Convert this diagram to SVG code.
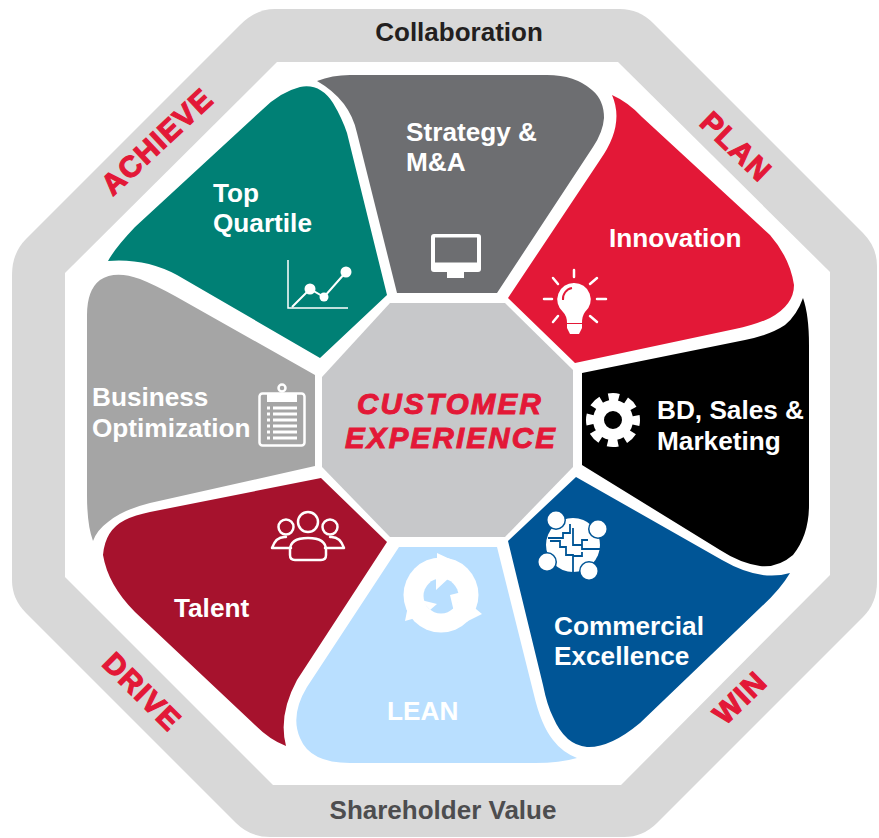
<svg xmlns="http://www.w3.org/2000/svg" width="879" height="838" viewBox="0 0 879 838">
<defs><style>
text{font-family:"Liberation Sans",Arial,sans-serif;font-weight:700;}
.w{fill:#fff;font-size:26.2px;}
.r{fill:#e31837;stroke:#e31837;stroke-width:1.200px;font-size:29.5px;letter-spacing:1.300px;text-anchor:middle;}
.c{fill:#e31837;stroke:#e31837;stroke-width:1px;font-size:29.5px;font-style:italic;letter-spacing:2.2px;text-anchor:middle;}
.d{fill:#231f20;font-size:26px;text-anchor:middle;}
.i{fill:none;stroke:#fff;stroke-width:2.5;stroke-linecap:round;stroke-linejoin:round;}
.f{fill:#fff;stroke:none;}
</style></defs>
<rect width="879" height="838" fill="#fff"/>
<g id="frame">
<path d="M275 9H620Q639 9 653 23L863 233Q877 247 877 266V582Q877 603 863 617L657 823Q643 837 624 837H270Q250 837 236 823L26 613Q12 599 12 580V275Q12 253 26 239L240 25Q256 9 275 9Z" fill="#d8d8d8"/>
<path d="M277 62H618L830 272V575L621 785H273L65 577V273Z" fill="#fff"/>
</g>
<g id="labels-outer">
<text class="d" x="459" y="41">Collaboration</text>
<text class="d" x="443" y="819" style="fill:#4d4d4f">Shareholder Value</text>
<text class="r" transform="translate(164,149) rotate(-43)">ACHIEVE</text>
<text class="r" transform="translate(729,154) rotate(44)">PLAN</text>
<text class="r" transform="translate(747,705) rotate(-44)">WIN</text>
<text class="r" transform="translate(135,699) rotate(45)">DRIVE</text>
</g>
<g id="center">
<path d="M390 303H505L573 370V467L505 537H390L322 467V377Z" fill="#c7c8ca"/>
<text class="c" x="450" y="414">CUSTOMER</text>
<text class="c" x="451" y="448">EXPERIENCE</text>
</g>
<g id="strategy">
<path d="M317 81Q332 75 350 75H547Q575 75 592 90Q604 100 604 118Q603 132 593 147L497 293H397L357 133Q350 100 317 81Z" fill="#6d6e71"/>
<text class="w" x="406" y="141">Strategy &amp;</text><text class="w" x="406" y="171">M&amp;A</text>
<rect x="431" y="234" width="50" height="38" rx="3" class="f"/>
<rect x="435" y="237.500" width="42" height="25" fill="#6d6e71"/>
<rect x="447" y="272" width="17" height="6" class="f"/>
</g>
<g id="innovation">
<path d="M612 95Q628 102 642 117L770 235Q790 258 794 285Q794 305 770 318Q755 325 735 329L575 363L508 298L600 160Q625 125 612 95Z" fill="#e31837"/>
<text class="w" x="609" y="247">Innovation</text>
<path class="i" stroke-width="3" d="M574 270V277M553 278L558 284M544 299H552M597 278L590 284M597 299H606M553 322L558 316M597 322L590 316"/>
<path class="f" d="M574 283A16.500 16.500 0 0 1 585 312Q582 316 582 323H567Q567 316 563 312A16.500 16.500 0 0 1 574 283Z"/>
<rect class="f" x="567" y="324" width="15" height="4"/><path class="f" d="M567 328H582L579 334H570Z"/>
<path d="M563 300A11 11 0 0 1 572 288" fill="none" stroke="#e31837" stroke-width="2"/>
</g>
<g id="bd">
<path d="M803 298Q809 315 809 345V505Q809 535 793 555Q778 568 760 566Q740 563 720 550L582 465V373L745 340Q770 335 785 325Q797 315 803 298Z" fill="#000"/>
<text class="w" x="657" y="419">BD, Sales &amp;</text><text class="w" x="657" y="450">Marketing</text>
<circle cx="613" cy="420" r="14.500" fill="none" stroke="#fff" stroke-width="11"/>
<circle cx="613" cy="420" r="23" fill="none" stroke="#fff" stroke-width="8" stroke-dasharray="10.500 7.564" stroke-dashoffset="5.250"/>
</g>
<g id="commercial">
<path d="M576 477L722 560Q760 582 790 573Q780 590 760 608L640 723Q610 748 587 747Q565 745 553 717Q547 705 543 685L508 541Z" fill="#005596"/>
<text class="w" x="554" y="635">Commercial</text><text class="w" x="554" y="665">Excellence</text>
<circle cx="573" cy="545" r="27" class="f"/>
<path d="M548 538H563V533H570V524M550 541H560V547H566V555H573V572M573 528V545H582V540H588M582 545V549H600M573 556H582V552" fill="none" stroke="#005596" stroke-width="1.800"/>
<circle cx="556" cy="520" r="10" fill="#005596"/><circle cx="598" cy="529" r="10" fill="#005596"/><circle cx="547" cy="562" r="10" fill="#005596"/><circle cx="589" cy="571" r="10" fill="#005596"/>
<circle cx="556" cy="520" r="8.500" class="f"/><circle cx="598" cy="529" r="8.500" class="f"/><circle cx="547" cy="562" r="8.500" class="f"/><circle cx="589" cy="571" r="8.500" class="f"/>
</g>
<g id="lean">
<path d="M399 547H497L534 695Q541 725 553 740Q562 752 577 758Q560 763 535 763H350Q310 763 300 738Q290 715 307 687Z" fill="#b9dfff"/>
<text class="w" x="387" y="720" font-weight="400">LEAN</text>
<circle cx="441" cy="595" r="37.500" class="f"/>
<path class="f" d="M437 553L437 566L452 560ZM482 614L470 604L466 622ZM405 621L408 606L419 617Z"/>
<circle cx="441" cy="596" r="17.500" fill="#b9dfff"/>
<path class="f" d="M436 578L436 590L449 578ZM450 595L462 592L454 612ZM421 600L437 604L430 610Z"/>
</g>
<g id="talent">
<path d="M321 478L387 542L297 680Q278 715 286 746Q270 740 255 725L135 612Q108 585 103 555Q105 530 125 520Q135 515 150 512Z" fill="#a6122d"/>
<text class="w" x="174" y="617">Talent</text>
<circle cx="308" cy="522" r="10" class="i"/><circle cx="286" cy="527" r="7.500" class="i"/><circle cx="330" cy="527" r="7.500" class="i"/>
<path class="i" d="M290 555V550Q290 538 308 538Q326 538 326 550V555Q326 560 321 560H295Q290 560 290 555ZM291 548H272Q276 536 286 537M330 537Q340 536 344 548H325"/>
</g>
<g id="business">
<path d="M315 375V466L150 503Q122 510 108 522Q97 530 93 541Q87 525 87 495V315Q87 290 100 280Q115 270 140 279Q155 285 175 296Z" fill="#a5a5a5"/>
<text class="w" x="92" y="406">Business</text><text class="w" x="92" y="437">Optimization</text>
<rect x="259.500" y="393.500" width="45" height="52" rx="3" class="i" stroke-width="3"/>
<rect x="267" y="393" width="30" height="9" class="f"/><circle cx="282" cy="388" r="3.500" class="i" stroke-width="2"/>
<path d="M273 408H297M273 414H297M273 420H297M273 426H297M273 432H297M273 438H297M267 408H270M267 414H270M267 420H270M267 426H270M267 432H270M267 438H270" stroke="#fff" stroke-width="3"/>
</g>
<g id="quartile">
<path d="M108 261Q115 248 135 227L262 110Q280 92 300 87Q320 83 333 103Q342 118 347 133L387 295L320 358L177 275Q145 258 108 261Z" fill="#008075"/>
<text class="w" x="213" y="202">Top</text><text class="w" x="213" y="232">Quartile</text>
<path d="M288 260V308H348" fill="none" stroke="#fff" stroke-width="1.500"/>
<path d="M292 307L310 289L324 297L346 272" fill="none" stroke="#fff" stroke-width="2"/>
<circle cx="310" cy="289" r="5.500" class="f"/><circle cx="324" cy="297" r="4.500" class="f"/><circle cx="346" cy="272" r="5.500" class="f"/>
</g>
<g id="connectors"></g>
</svg>
